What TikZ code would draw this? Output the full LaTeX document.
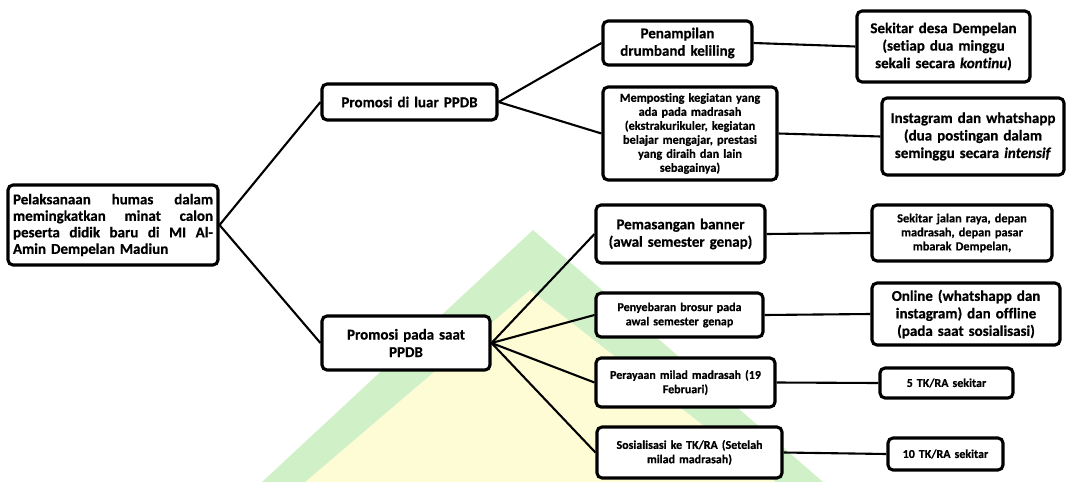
\documentclass[tikz,border=0pt]{standalone}
\usepackage{fontspec}
\setmainfont{Carlito}[Ligatures={NoCommon}, BoldFeatures={FakeBold=0.6}, BoldItalicFeatures={FakeBold=0.6}]
\definecolor{wmgreen}{RGB}{208,240,200}
\definecolor{wmyellow}{RGB}{253,252,212}
\tikzset{
  box/.style={draw, line width=3.1pt, rounded corners=5pt, fill=white,
    font=\bfseries, align=center, inner xsep=5pt, inner ysep=2pt},
  bigt/.style={font=\bfseries\fontsize{15}{17.5}\selectfont},
  roott/.style={font=\bfseries\fontsize{15}{16.5}\selectfont},
  smallt/.style={font=\bfseries\fontsize{12.3}{14}\selectfont},
  midt/.style={font=\bfseries\fontsize{12}{14.3}\selectfont},
  link/.style={line width=2.1pt}
}
\newcommand{\jl}[1]{\leavevmode\hbox to \hsize{#1}}
\begin{document}
\begin{tikzpicture}[x=1pt,y=-1pt]
\useasboundingbox (0,0) rectangle (1066,482);
% watermark
\fill[wmyellow] (305,482) -- (530,290) -- (776,482) -- cycle;
\fill[wmgreen] (262,482) -- (533,230) -- (823,482) -- (776,482) -- (530,290) -- (305,482) -- cycle;
% nodes
\node[box, roott, align=left, text width=200pt, minimum height=80pt] (root) at (113,225)
 {\jl{Pelaksanaan\hfill humas\hfill dalam}\\\jl{memingkatkan\hfill minat\hfill calon}\\\jl{peserta\hfill didik\hfill baru\hfill di\hfill MI\hfill Al-}\\Amin Dempelan Madiun};
\node[box, bigt, text width=165pt, minimum height=36pt] (luar) at (409.5,102) {Promosi di luar PPDB};
\node[box, bigt, text width=158pt, minimum height=54pt] (saat) at (406,343) {Promosi pada saat\\PPDB};
\node[box, bigt, text width=139pt, minimum height=44pt] (drum) at (677.5,43) {Penampilan\\drumband keliling};
\node[box, smallt, text width=164pt, minimum height=93pt] (post) at (690,133.5) {Memposting kegiatan yang\\ada pada madrasah\\(ekstrakurikuler, kegiatan\\belajar mengajar, prestasi\\yang diraih dan lain\\sebagainya)};
\node[box, bigt, text width=163pt, minimum height=71pt] (desa) at (943.5,46.5) {Sekitar desa Dempelan\\(setiap dua minggu\\sekali secara \textit{kontinu})};
\node[box, bigt, text width=172pt, minimum height=77pt] (insta) at (973,136.5) {Instagram dan whatshapp\\(dua postingan dalam\\seminggu secara \textit{intensif}};
\node[box, bigt, text width=159pt, minimum height=58pt] (banner) at (680.5,234) {Pemasangan banner\\(awal semester genap)};
\node[box, smallt, text width=170pt, minimum height=56pt] (jalan) at (962,233) {Sekitar jalan raya, depan\\madrasah, depan pasar\\mbarak Dempelan,};
\node[box, bigt, text width=178pt, minimum height=62pt] (online) at (966,314) {Online (whatshapp dan\\instagram) dan offline\\(pada saat sosialisasi)};
\node[box, midt, text width=157pt, minimum height=44pt] (brosur) at (679.5,315) {Penyebaran brosur pada\\awal semester genap};
\node[box, midt, text width=169pt, minimum height=49pt] (milad) at (685.5,382.5) {Perayaan milad madrasah (19\\Februari)};
\node[box, midt, text width=175pt, minimum height=51pt] (sos) at (689.5,452.5) {Sosialisasi ke TK/RA (Setelah\\milad madrasah)};
\node[box, midt, text width=123pt, minimum height=30pt] (lima) at (946.5,383) {5 TK/RA sekitar};
\node[box, midt, text width=105pt, minimum height=32pt] (sepuluh) at (945.5,454) {10 TK/RA sekitar};
% connectors
\draw[link] (root.east) -- (luar.west);
\draw[link] (root.east) -- (saat.west);
\draw[link] (luar.east) -- (drum.west);
\draw[link] (luar.east) -- (post.west);
\draw[link] (saat.east) -- (banner.west);
\draw[link] (saat.east) -- (brosur.west);
\draw[link] (saat.east) -- (milad.west);
\draw[link] (saat.east) -- (sos.west);
\draw[link] (drum.east) -- (desa.west);
\draw[link] (post.east) -- (insta.west);
\draw[link] (banner.east) -- (jalan.west);
\draw[link] (brosur.east) -- (online.west);
\draw[link] (milad.east) -- (lima.west);
\draw[link] (sos.east) -- (sepuluh.west);
\end{tikzpicture}
\end{document}
